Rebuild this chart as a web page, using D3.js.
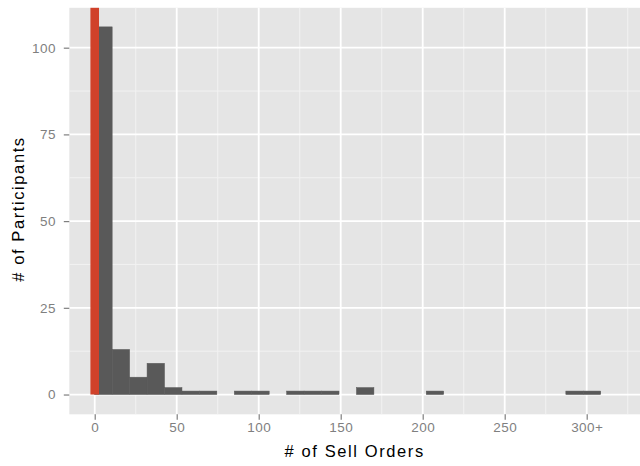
<!DOCTYPE html>
<html>
<head>
<meta charset="utf-8">
<script src="https://cdn.jsdelivr.net/npm/d3@7"></script>
<style>
  html, body { margin: 0; padding: 0; background: #ffffff; }
  svg { display: block; }
</style>
</head>
<body>
<svg id="chart" width="640" height="466"></svg>
<script>
// ---- data ----
const binWidth = 10.64;
const binStarts = [0, 10.64, 21.28, 31.92, 42.56, 53.2, 63.84, 85.12, 95.76, 117.04, 127.68, 138.32, 159.6, 202.16, 287.28, 297.92];
const counts    = [106, 13, 5, 9, 2, 1, 1, 1, 1, 1, 1, 1, 2, 1, 1, 1];
const markerValue = 0;                       // highlighted reference at 0 orders
const xTickValues = [0, 50, 100, 150, 200, 250, 300];
const xTickLabels = ["0", "50", "100", "150", "200", "250", "300+"];
const xMinorValues = [25, 75, 125, 175, 225, 275, 325];
const yTickValues = [0, 25, 50, 75, 100];
const yTickLabels = ["0", "25", "50", "75", "100"];
const yMinorValues = [12.5, 37.5, 62.5, 87.5];
const xTitle = "# of Sell Orders";
const yTitle = "# of Participants";

// ---- layout ----
const panel = { left: 69.3, right: 640, top: 7.8, bottom: 414.3 };
const svg = d3.select("#chart");

const x = d3.scaleLinear().domain([-15.5, 332.5]).range([panel.left, panel.right]);
const y = d3.scaleLinear().domain([-5.7, 111.5]).range([panel.bottom, panel.top]);

// panel background
svg.append("rect")
  .attr("x", panel.left).attr("y", panel.top)
  .attr("width", panel.right - panel.left).attr("height", panel.bottom - panel.top)
  .attr("fill", "#e5e5e5");

const grid = svg.append("g");
// minor grid
grid.selectAll("line.xminor").data(xMinorValues).join("line")
  .attr("x1", d => x(d)).attr("x2", d => x(d))
  .attr("y1", panel.top).attr("y2", panel.bottom)
  .attr("stroke", "#f2f2f2").attr("stroke-width", 1);
grid.selectAll("line.yminor").data(yMinorValues).join("line")
  .attr("y1", d => y(d)).attr("y2", d => y(d))
  .attr("x1", panel.left).attr("x2", panel.right)
  .attr("stroke", "#f2f2f2").attr("stroke-width", 1);
// major grid
grid.selectAll("line.xmajor").data(xTickValues).join("line")
  .attr("x1", d => x(d)).attr("x2", d => x(d))
  .attr("y1", panel.top).attr("y2", panel.bottom)
  .attr("stroke", "#ffffff").attr("stroke-width", 1.8);
grid.selectAll("line.ymajor").data(yTickValues).join("line")
  .attr("y1", d => y(d)).attr("y2", d => y(d))
  .attr("x1", panel.left).attr("x2", panel.right)
  .attr("stroke", "#ffffff").attr("stroke-width", 1.8);

// bars
const bars = binStarts.map((s, i) => ({ x0: s, x1: s + binWidth, n: counts[i] }));
svg.append("g").selectAll("rect").data(bars).join("rect")
  .attr("x", d => x(d.x0))
  .attr("width", d => x(d.x1) - x(d.x0))
  .attr("y", d => y(d.n))
  .attr("height", d => y(0) - y(d.n))
  .attr("fill", "#595959")
  .attr("stroke", "#595959").attr("stroke-width", 0.5);

// red marker at 0
const markerWidthPx = 8.6;
svg.append("rect")
  .attr("x", x(markerValue) - markerWidthPx / 2)
  .attr("width", markerWidthPx)
  .attr("y", panel.top)
  .attr("height", y(0) - panel.top)
  .attr("fill", "#d0412a");

// axes
const tickColor = "#7f7f7f";
const xAxis = d3.axisBottom(x).tickValues(xTickValues)
  .tickFormat((d, i) => xTickLabels[i]).tickSize(5.5).tickPadding(3);
const gx = svg.append("g").attr("transform", `translate(0,${panel.bottom})`).call(xAxis);
gx.select(".domain").remove();
gx.selectAll(".tick line").attr("stroke", tickColor).attr("stroke-width", 1.2);
gx.selectAll(".tick text").attr("fill", tickColor)
  .style("font-family", "'Liberation Sans', Arial, sans-serif")
  .style("font-size", "13.5px").style("letter-spacing", "0.4px");

const yAxis = d3.axisLeft(y).tickValues(yTickValues)
  .tickFormat((d, i) => yTickLabels[i]).tickSize(5.5).tickPadding(8);
const gy = svg.append("g").attr("transform", `translate(${panel.left},0)`).call(yAxis);
gy.select(".domain").remove();
gy.selectAll(".tick line").attr("stroke", tickColor).attr("stroke-width", 1.2);
gy.selectAll(".tick text").attr("fill", tickColor)
  .style("font-family", "'Liberation Sans', Arial, sans-serif")
  .style("font-size", "13.5px").style("letter-spacing", "0.4px");

// titles
svg.append("text")
  .attr("x", (panel.left + panel.right) / 2).attr("y", 457)
  .attr("text-anchor", "middle")
  .style("font-family", "'Liberation Sans', Arial, sans-serif")
  .style("font-size", "16.5px").style("letter-spacing", "1.6px")
  .attr("fill", "#000")
  .text(xTitle);

svg.append("text")
  .attr("transform", `translate(24,${(panel.top + panel.bottom) / 2 - 2}) rotate(-90)`)
  .attr("text-anchor", "middle")
  .style("font-family", "'Liberation Sans', Arial, sans-serif")
  .style("font-size", "16.5px").style("letter-spacing", "1.6px")
  .attr("fill", "#000")
  .text(yTitle);
</script>
</body>
</html>
